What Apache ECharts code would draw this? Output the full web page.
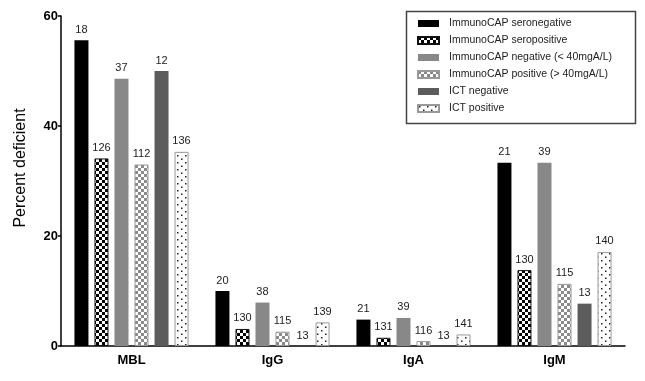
<!DOCTYPE html>
<html><head><meta charset="utf-8">
<script src="https://cdn.jsdelivr.net/npm/echarts@6/dist/echarts.min.js"></script>
<style>html,body{margin:0;padding:0;background:#fff}#c{width:645px;height:381px}</style>
</head><body><div id="c"></div>
<script>
const categories = ['MBL', 'IgG', 'IgA', 'IgM'];
const seriesNames = ['ImmunoCAP seronegative', 'ImmunoCAP seropositive', 'ImmunoCAP negative (< 40mgA/L)', 'ImmunoCAP positive (> 40mgA/L)', 'ICT negative', 'ICT positive'];
const yTicks = [0, 20, 40, 60];
// percent deficient
const seronegVals = [55.6, 10.0, 4.8, 33.3];
const seroposVals = [34.1, 3.1, 1.5, 13.8];
const capNegVals  = [48.6, 7.9, 5.1, 33.3];
const capPosVals  = [33.0, 2.6, 0.9, 11.3];
const ictNegVals  = [50.0, 0, 0, 7.7];
const ictPosVals  = [35.3, 4.3, 2.1, 17.1];
// group sizes shown above bars
const seronegN = [18, 20, 21, 21];
const seroposN = [126, 130, 131, 130];
const capNegN  = [37, 38, 39, 39];
const capPosN  = [112, 115, 116, 115];
const ictNegN  = [12, 13, 13, 13];
const ictPosN  = [136, 139, 141, 140];

function checker(c1, c2, s) {
  const cv = document.createElement('canvas');
  cv.width = 2 * s; cv.height = 2 * s;
  const g = cv.getContext('2d');
  g.fillStyle = c2; g.fillRect(0, 0, 2 * s, 2 * s);
  g.fillStyle = c1; g.fillRect(0, 0, s, s); g.fillRect(s, s, s, s);
  return { image: cv, repeat: 'repeat' };
}
function dots() {
  const cv = document.createElement('canvas');
  cv.width = 8; cv.height = 7;
  const g = cv.getContext('2d');
  g.fillStyle = '#fff'; g.fillRect(0, 0, 8, 7);
  g.fillStyle = '#222';
  g.fillRect(1, 1, 1.5, 1.5); g.fillRect(5, 4.5, 1.5, 1.5);
  return { image: cv, repeat: 'repeat' };
}

const vals = [seronegVals, seroposVals, capNegVals, capPosVals, ictNegVals, ictPosVals];
const counts = [seronegN, seroposN, capNegN, capPosN, ictNegN, ictPosN];
const styles = [
  { color: '#000000' },
  { color: checker('#000', '#fff', 3), borderColor: '#111', borderWidth: 1 },
  { color: '#888888' },
  { color: checker('#8a8a8a', '#fff', 3), borderColor: '#999', borderWidth: 1 },
  { color: '#5c5c5c' },
  { color: dots(), borderColor: '#999', borderWidth: 1 }
];

const series = seriesNames.map((name, i) => ({
  name, type: 'bar', barWidth: 14, barGap: '43%',
  data: vals[i], itemStyle: styles[i],
  label: {
    show: true, position: 'top', distance: 5,
    fontFamily: 'Liberation Sans', fontSize: 11, color: '#222',
    formatter: p => String(counts[i][p.dataIndex])
  }
}));

const chart = echarts.init(document.getElementById('c'), null, { renderer: 'canvas' });
chart.setOption({
  animation: false,
  backgroundColor: '#fff',
  textStyle: { fontFamily: 'Liberation Sans' },
  grid: { left: 61, right: 20, top: 16, bottom: 35, containLabel: false },
  graphic: [{
    type: 'rect', left: 404, top: 9,
    shape: { width: 229, height: 112 },
    style: { fill: 'none', stroke: '#444', lineWidth: 1.5 }
  }],
  legend: {
    orient: 'vertical', left: 412, top: 13,
    itemWidth: 21, itemHeight: 7, itemGap: 6,
    icon: 'rect',
    textStyle: { fontFamily: 'Liberation Sans', fontSize: 10.5, color: '#222', padding: [0, 0, 0, 5] },
    data: seriesNames
  },
  xAxis: {
    type: 'category', data: categories,
    axisLine: { lineStyle: { color: '#000', width: 1.5 } },
    axisTick: { alignWithLabel: true, length: 4, lineStyle: { color: '#000', width: 1.5 } },
    axisLabel: { fontFamily: 'Liberation Sans', fontWeight: 'bold', fontSize: 13, color: '#000', margin: 8 }
  },
  yAxis: {
    type: 'value', min: yTicks[0], max: yTicks[yTicks.length - 1], interval: 20,
    name: 'Percent deficient', nameLocation: 'middle', nameGap: 32, nameRotate: 90,
    nameTextStyle: { fontFamily: 'Liberation Sans', fontSize: 16, color: '#000', padding: [0, 0, 0, 26] },
    splitLine: { show: false },
    axisLine: { show: true, lineStyle: { color: '#000', width: 1.5 } },
    axisTick: { show: true, length: 3, lineStyle: { color: '#000', width: 1.5 } },
    axisLabel: { fontFamily: 'Liberation Sans', fontWeight: 'bold', fontSize: 13, color: '#000', margin: 3 }
  },
  series
});
</script></body></html>
